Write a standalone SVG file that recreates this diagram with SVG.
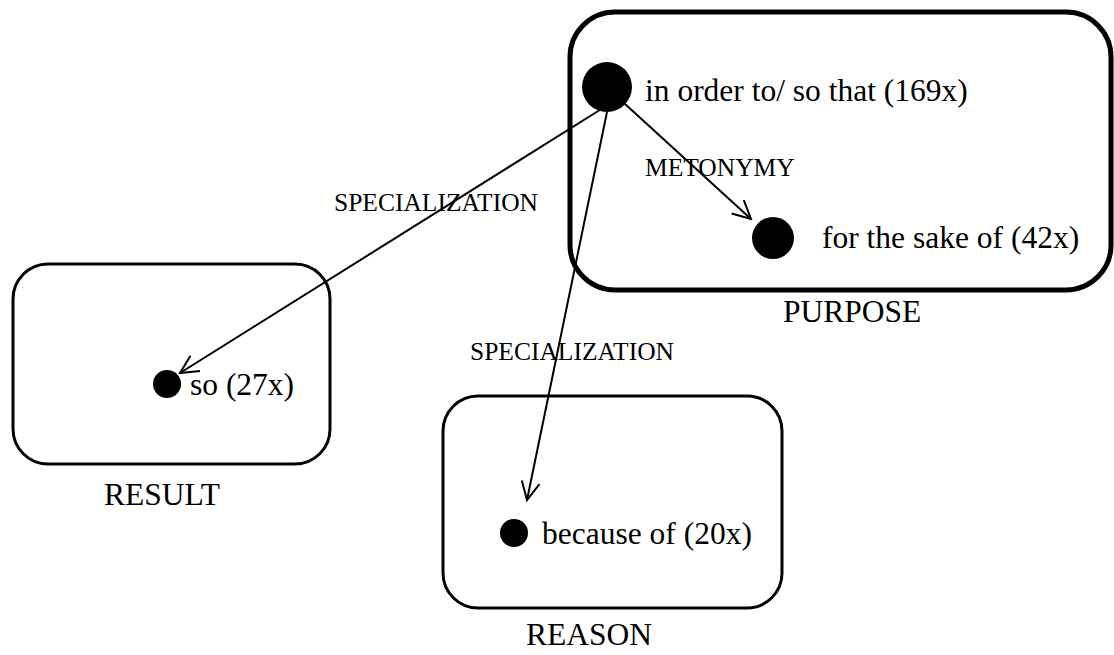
<svg xmlns="http://www.w3.org/2000/svg" width="1114" height="655" viewBox="0 0 1114 655">
  <style>
    .box { fill: none; stroke: #000; }
    .dot { fill: #000; }
    .lbl { font-family: "Liberation Serif", "Times New Roman", serif; fill: #000; }
    .big { font-size: 31.5px; }
    .small { font-size: 25.5px; }
    .edge { stroke: #000; stroke-width: 2; fill: none; }
  </style>
  <defs>
    <!-- open V arrowhead -->
    <marker id="open" viewBox="0 0 22 22" refX="20" refY="11" markerWidth="22" markerHeight="22" markerUnits="userSpaceOnUse" orient="auto">
      <path d="M2,2 L20,11 L2,20" fill="none" stroke="#000" stroke-width="2"/>
    </marker>
  </defs>
  <rect width="1114" height="655" fill="#fff"/>

  <g id="purpose">
    <rect class="box" x="570" y="12" width="541" height="278" rx="45" stroke-width="5"/>
    <text class="lbl big" x="783" y="322">PURPOSE</text>
  </g>
  <g id="result">
    <rect class="box" x="13" y="264" width="317" height="200" rx="35" stroke-width="3"/>
    <text class="lbl big" x="104" y="505">RESULT</text>
  </g>
  <g id="reason">
    <rect class="box" x="443" y="396" width="339" height="212" rx="35" stroke-width="3"/>
    <text class="lbl big" x="526" y="645">REASON</text>
  </g>

  <g id="node-in-order-to">
    <circle class="dot" cx="607" cy="87" r="25"/>
    <text class="lbl big" x="645" y="101">in order to/ so that (169x)</text>
  </g>
  <g id="node-for-the-sake-of">
    <circle class="dot" cx="773" cy="238" r="21"/>
    <text class="lbl big" x="822" y="248">for the sake of (42x)</text>
  </g>
  <g id="node-so">
    <circle class="dot" cx="167" cy="384" r="14"/>
    <text class="lbl big" x="190" y="395">so (27x)</text>
  </g>
  <g id="node-because-of">
    <circle class="dot" cx="514" cy="533" r="14"/>
    <text class="lbl big" x="542" y="544">because of (20x)</text>
  </g>

  <g id="connectors">
    <line class="edge" x1="603" y1="108" x2="180" y2="373" marker-end="url(#open)"/>
    <line class="edge" x1="607" y1="112" x2="527" y2="500" marker-end="url(#open)"/>
    <line class="edge" x1="625" y1="104" x2="751" y2="219" marker-end="url(#open)"/>
    <text class="lbl small" x="334" y="211">SPECIALIZATION</text>
    <text class="lbl small" x="470" y="360">SPECIALIZATION</text>
    <text class="lbl small" x="645" y="176">METONYMY</text>
  </g>
</svg>
